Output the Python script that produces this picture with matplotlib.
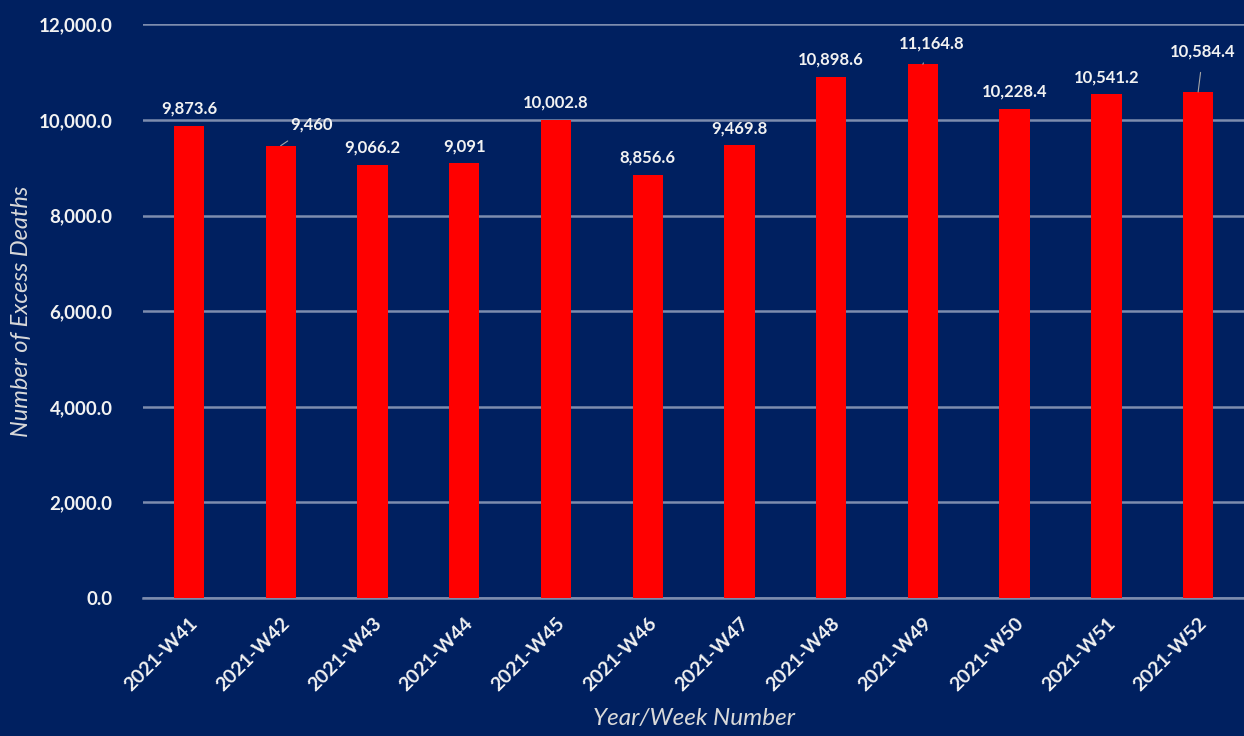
import matplotlib
matplotlib.use("Agg")
import matplotlib.pyplot as plt

weeks = ["2021-W41", "2021-W42", "2021-W43", "2021-W44", "2021-W45", "2021-W46",
         "2021-W47", "2021-W48", "2021-W49", "2021-W50", "2021-W51", "2021-W52"]
excess = [9873.6, 9460, 9066.2, 9091, 10002.8, 8856.6,
          9469.8, 10898.6, 11164.8, 10228.4, 10541.2, 10584.4]
labels = ["9,873.6", "9,460", "9,066.2", "9,091", "10,002.8", "8,856.6",
          "9,469.8", "10,898.6", "11,164.8", "10,228.4", "10,541.2", "10,584.4"]
yticks = [0, 2000, 4000, 6000, 8000, 10000, 12000]

bg = "#002060"
grid = "#7d8cae"
txt = "#f2f2f2"

plt.rcParams['font.family'] = ['Lato', 'DejaVu Sans']

fig = plt.figure(figsize=(12.44, 7.36), dpi=100, facecolor=bg)
ax = fig.add_axes([0.115, 0.1875, 0.885, 0.7795], facecolor=bg)

x = range(len(weeks))
ax.bar(x, excess, width=0.33, color="#ff0000", zorder=3)

ax.set_xlim(-0.5, len(weeks) - 0.5)
ax.set_ylim(0, 12000)
ax.set_yticks(yticks)
ax.set_yticklabels(["{:,.1f}".format(v) for v in yticks], color=txt,
                   fontsize=13.5, fontweight="bold")
ax.set_xticks(list(x))
ax.set_xticklabels(weeks, rotation=45, ha="right", rotation_mode="anchor",
                   color=txt, fontsize=14, fontweight="bold")
ax.tick_params(axis="both", length=0)
ax.tick_params(axis="y", pad=22)
ax.tick_params(axis="x", pad=12)

ax.grid(axis="y", color=grid, linewidth=1.8, zorder=0)
for s in ["top", "right", "left"]:
    ax.spines[s].set_visible(False)
ax.spines["bottom"].set_color(grid)
ax.spines["bottom"].set_linewidth(1.8)

# label offsets in pixels, a few were dragged off the bar in the original
offsets = {1: (31, 21), 8: (9, 21), 11: (5, 40)}
for i, v in enumerate(excess):
    dx, dy = offsets.get(i, (0, 17))
    arrow = None
    if i in offsets:
        arrow = dict(arrowstyle="-", color="#a6a6a6", lw=0.8, shrinkA=7, shrinkB=0)
    ax.annotate(labels[i], xy=(i, v), xytext=(dx, dy), textcoords="offset pixels",
                ha="center", va="center", color=txt, fontsize=12,
                fontweight="bold", arrowprops=arrow)

ax.set_ylabel("Number of Excess Deaths", color="#d9d9d9", fontsize=17,
              style="italic")
ax.yaxis.set_label_coords(-0.101, 0.5)
ax.set_xlabel("Year/Week Number", color="#d9d9d9", fontsize=17.5,
              style="italic")
ax.xaxis.set_label_coords(0.5, -0.192)

fig.savefig("out.png", dpi=100, facecolor=bg)
